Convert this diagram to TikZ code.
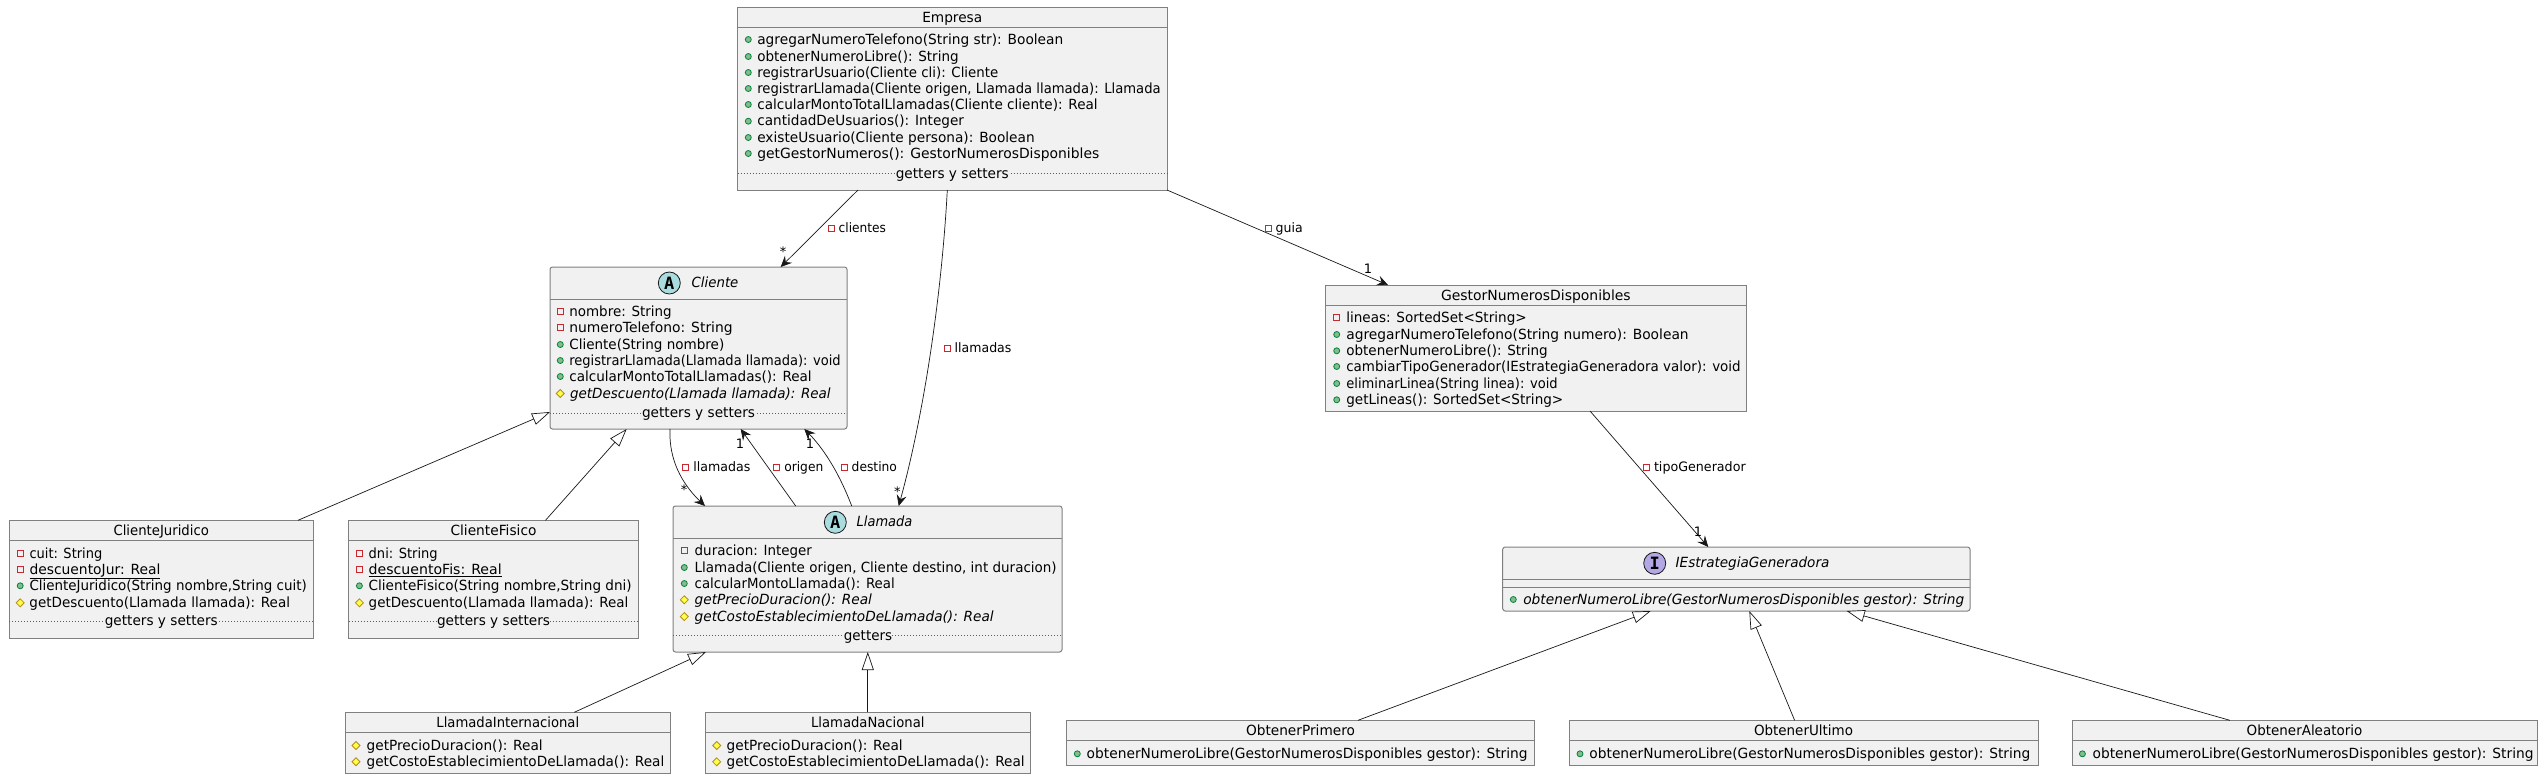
\documentclass[tikz,border=0pt]{standalone}
\usepackage{graphicx}
\usepackage{fontspec}
\setmainfont{DejaVu Sans}
\newfontfamily\spotfont{DejaVu Sans Mono}
\usetikzlibrary{arrows.meta}
\definecolor{boxfill}{HTML}{F1F1F1}
\definecolor{boxline}{HTML}{808080}
\definecolor{conline}{HTML}{181818}
\definecolor{privc}{HTML}{C82930}
\definecolor{pubf}{HTML}{84BE84}
\definecolor{pubd}{HTML}{038048}
\definecolor{protf}{HTML}{FFFF44}
\definecolor{protd}{HTML}{B38D22}
\definecolor{abstf}{HTML}{A9DCDF}
\definecolor{intff}{HTML}{B4A7E5}
\tikzset{
  cls/.style={draw=boxline,fill=boxfill,line width=1pt,inner sep=0pt,outer sep=0pt},
  absbox/.style={rounded corners=2.5pt},
  sepline/.style={draw=boxline,line width=1pt},
  dotline/.style={draw=conline!70,line width=.6pt,dash pattern=on 1pt off 2pt},
  mtext/.style={anchor=base west,inner sep=0pt,outer sep=0pt,font=\fontsize{14}{16}\selectfont,text=black},
  ttext/.style={anchor=base,inner sep=0pt,outer sep=0pt,font=\fontsize{14}{16}\selectfont,text=black},
  dottext/.style={anchor=base,inner sep=0pt,outer sep=0pt,fill=boxfill,font=\fontsize{14}{16}\selectfont,text=black},
  ltext/.style={anchor=base west,inner sep=0pt,outer sep=0pt,font=\fontsize{13}{15}\selectfont,text=black},
  mult/.style={anchor=center,inner sep=0pt,outer sep=0pt,font=\fontsize{13}{15}\selectfont,text=black},
  con/.style={draw=conline,line width=.7pt},
  assoc/.style={con,-{Stealth[length=11pt,width=10pt,inset=4pt,fill=conline]}},
  inherit/.style={con,-{Triangle[length=18pt,width=12pt,fill=white,line width=.7pt]}},
  privi/.style={draw=privc,line width=.9pt},
  pubi/.style={draw=pubd,fill=pubf,line width=.8pt},
  proti/.style={draw=protd,fill=protf,line width=.8pt},
  spot/.style={circle,draw=conline,line width=.8pt,minimum size=22pt,inner sep=0pt,outer sep=0pt,font=\spotfont\bfseries\fontsize{17}{17}\selectfont,text=black}
}
\newcounter{txtno}
\newcommand{\W}[2]{\resizebox{#1pt}{\height}{#2}}
\newcommand{\umlcls}[6][]{%
  \pgfmathsetmacro\myX{(#3+#5)/2}\pgfmathsetmacro\myY{(#4+#6)/2}%
  \pgfmathsetmacro\myW{#5-#3}\pgfmathsetmacro\myH{#6-#4}%
  \node[cls,#1,minimum width=\myW pt,minimum height=\myH pt] (#2) at (\myX,\myY) {};}
\newcommand{\txt}[4]{\stepcounter{txtno}\node[#1] (t\arabic{txtno}) at (#2,#3) {#4};}
\newcommand{\hsep}[2]{\draw[sepline] (#1.west |- 0,#2) -- (#1.east |- 0,#2);}
\newcommand{\dsep}[4]{\draw[dotline] (#1.west |- 0,#2) -- (#1.east |- 0,#2);
  \txt{dottext}{#3}{#4}{\W{113}{getters y setters}}}
% icon x, text x, baseline, text
\newcommand{\pubm}[4]{\filldraw[pubi] (#1,#3-4.5) circle (3pt); \txt{mtext}{#2}{#3}{#4}}
\newcommand{\prim}[4]{\draw[privi] (#1-3,#3-7.5) rectangle (#1+3,#3-1.5); \txt{mtext}{#2}{#3}{#4}}
\newcommand{\prom}[4]{\filldraw[proti] (#1-4,#3-4.5) -- (#1,#3-8.5) -- (#1+4,#3-4.5) -- (#1,#3-0.5) -- cycle; \txt{mtext}{#2}{#3}{#4}}
\newcommand{\conlab}[3]{\draw[privi] (#1-10.5,#2-7.5) rectangle (#1-4.5,#2-1.5); \txt{ltext}{#1}{#2}{#3}}
\begin{document}
\begin{tikzpicture}[x=1pt,y=-1pt]
\useasboundingbox (0,0) rectangle (2546,779);
\fill[white] (0,0) rectangle (2546,779);

\umlcls{empresa}{737.5}{7.5}{1167}{190}
\umlcls[absbox]{cliente}{550}{267}{847}{429}
\umlcls{juridico}{9}{520.3}{313.5}{638.3}
\umlcls{fisico}{348.5}{520.3}{638.5}{638.3}
\umlcls[absbox]{llamada}{673}{506}{1062}{652}
\umlcls{internac}{345.3}{712.3}{670.3}{773.3}
\umlcls{nacional}{705.3}{712.3}{1030.3}{773.3}
\umlcls{gestor}{1325.7}{285}{1746}{411}
\umlcls[absbox]{estrategia}{1502.7}{547}{1970}{611}
\umlcls{primero}{1066.3}{720.3}{1534.7}{765.3}
\umlcls{ultimo}{1569}{720.3}{2038}{765.3}
\umlcls{aleatorio}{2072}{720.3}{2537}{765.3}

\draw[assoc] (858,0 |- empresa.south) -- (780.7,0 |- cliente.north);
\draw[assoc] (947.3,0 |- empresa.south) .. controls (942,290) and (925,410) .. (898.7,0 |- llamada.north);
\draw[assoc] (empresa.south east) -- (1388,0 |- gestor.north);
\draw[assoc] (670,0 |- cliente.south) .. controls (669,452) and (676,478) .. (705,0 |- llamada.north);
\draw[assoc] (795.7,0 |- llamada.north) -- (740.7,0 |- cliente.south);
\draw[assoc] (851.7,0 |- llamada.north) .. controls (838,470) and (822,447) .. (804.3,0 |- cliente.south);
\draw[assoc] (1590,0 |- gestor.south) -- (1708.3,0 |- estrategia.north);
\draw[inherit] (298,0 |- juridico.north) -- (cliente.west |- 0,412);
\draw[inherit] (545.5,0 |- fisico.north) -- (626.7,0 |- cliente.south);
\draw[inherit] (574.3,0 |- internac.north) -- (706,0 |- llamada.south);
\draw[inherit] (nacional.north) -- (nacional.north |- llamada.south);
\draw[inherit] (1358,0 |- primero.north) -- (1650.7,0 |- estrategia.south);
\draw[inherit] (1794.6,0 |- ultimo.north) -- (1749.3,0 |- estrategia.south);
\draw[inherit] (2229.8,0 |- aleatorio.north) -- (1846.7,0 |- estrategia.south);

\conlab{838.7}{232.7}{\W{47.3}{clientes}}
\txt{mult}{783}{252}{*}
\conlab{954.7}{352.7}{\W{56.7}{llamadas}}
\txt{mult}{897.3}{492}{*}
\conlab{1275.7}{232.7}{\W{27}{guia}}
\txt{mult}{1368}{269}{1}
\conlab{693.3}{471.7}{\W{57}{llamadas}}
\txt{mult}{684}{490}{*}
\conlab{784.3}{471.7}{\W{39}{origen}}
\txt{mult}{740}{444}{1}
\conlab{851.7}{471.7}{\W{45.3}{destino}}
\txt{mult}{810}{444}{1}
\conlab{1654}{471.7}{\W{91.7}{tipoGenerador}}
\txt{mult}{1698}{531.7}{1}

\hsep{empresa}{27.5}
\txt{ttext}{952.25}{22}{\W{60}{Empresa}}
\pubm{748.3}{757.3}{44}{\W{306}{agregarNumeroTelefono(String str): Boolean}}
\pubm{748.3}{757.3}{61}{\W{201.4}{obtenerNumeroLibre(): String}}
\pubm{748.3}{757.3}{77}{\W{241}{registrarUsuario(Cliente cli): Cliente}}
\pubm{748.3}{757.3}{93}{\W{403.4}{registrarLlamada(Cliente origen, Llamada llamada): Llamada}}
\pubm{748.3}{757.3}{109}{\W{340.4}{calcularMontoTotalLlamadas(Cliente cliente): Real}}
\pubm{748.3}{757.3}{125.7}{\W{206.7}{cantidadDeUsuarios(): Integer}}
\pubm{748.3}{757.3}{142}{\W{277.4}{existeUsuario(Cliente persona): Boolean}}
\pubm{748.3}{757.3}{158}{\W{342}{getGestorNumeros(): GestorNumerosDisponibles}}
\dsep{empresa}{173.3}{952.25}{178}

\hsep{cliente}{299}
\node[spot,fill=abstf] (spotcliente) at (669.3,283) {A};
\txt{mtext}{691.7}{287.7}{\W{46.7}{\itshape Cliente}}
\prim{560.3}{569.3}{316}{\W{102.4}{nombre: String}}
\prim{560.3}{569.3}{332.3}{\W{163.4}{numeroTelefono: String}}
\pubm{560.3}{569.3}{349}{\W{155}{Cliente(String nombre)}}
\pubm{560.3}{569.3}{365}{\W{271.4}{registrarLlamada(Llamada llamada): void}}
\pubm{560.3}{569.3}{381}{\W{242.4}{calcularMontoTotalLlamadas(): Real}}
\prom{560.3}{570}{398}{\W{260.7}{\itshape getDescuento(Llamada llamada): Real}}
\dsep{cliente}{413.3}{698.5}{417.5}

\hsep{juridico}{540.3}
\txt{ttext}{161.25}{535}{\W{95.5}{ClienteJuridico}}
\prim{20.2}{29.5}{558.3}{\W{72.8}{cuit: String}}
\prim{20.2}{29.5}{574.3}{\W{130.9}{\underline{descuentoJur: Real}}}
\pubm{20.2}{29.5}{590.3}{\W{277.3}{ClienteJuridico(String nombre,String cuit)}}
\prom{20.2}{29.5}{607.3}{\W{260.5}{getDescuento(Llamada llamada): Real}}
\dsep{juridico}{621.3}{161.25}{625.7}

\hsep{fisico}{540.3}
\txt{ttext}{493.5}{535}{\W{85.9}{ClienteFisico}}
\prim{359.4}{368.7}{558.3}{\W{69}{dni: String}}
\prim{359.4}{368.7}{574.3}{\W{133}{\underline{descuentoFis: Real}}}
\pubm{359.4}{368.7}{590.3}{\W{263}{ClienteFisico(String nombre,String dni)}}
\prom{359.4}{368.7}{607.3}{\W{259.7}{getDescuento(Llamada llamada): Real}}
\dsep{fisico}{621.3}{493.5}{625.7}

\hsep{llamada}{538.3}
\node[spot,fill=abstf] (spotllamada) at (835.3,522.3) {A};
\txt{mtext}{856.7}{526.7}{\W{55.7}{\itshape Llamada}}
\prim{684.3}{694.7}{555}{\W{117.3}{duracion: Integer}}
\pubm{684.3}{694.7}{572}{\W{362}{Llamada(Cliente origen, Cliente destino, int duracion)}}
\pubm{684.3}{694.7}{588}{\W{200}{calcularMontoLlamada(): Real}}
\prom{684.3}{694.7}{604.3}{\W{177.3}{\itshape getPrecioDuracion(): Real}}
\prom{684.3}{694.7}{621}{\W{299}{\itshape getCostoEstablecimientoDeLlamada(): Real}}
\draw[dotline] (llamada.west |- 0,635.3) -- (llamada.east |- 0,635.3);
\txt{dottext}{868}{640}{\W{48.3}{getters}}

\hsep{internac}{732.3}
\txt{ttext}{507.8}{727}{\W{142.7}{LlamadaInternacional}}
\prom{356}{366.7}{750}{\W{176}{getPrecioDuracion(): Real}}
\prom{356}{366.7}{766.3}{\W{297.6}{getCostoEstablecimientoDeLlamada(): Real}}
\hsep{nacional}{732.3}
\txt{ttext}{867.8}{727}{\W{113.3}{LlamadaNacional}}
\prom{716.7}{726.7}{750}{\W{176}{getPrecioDuracion(): Real}}
\prom{716.7}{726.7}{766.3}{\W{298}{getCostoEstablecimientoDeLlamada(): Real}}

\hsep{gestor}{305.3}
\txt{ttext}{1535.85}{300}{\W{189.7}{GestorNumerosDisponibles}}
\prim{1336.7}{1346.3}{322.3}{\W{180.4}{lineas: SortedSet<String>}}
\pubm{1336.7}{1346.3}{339}{\W{342.4}{agregarNumeroTelefono(String numero): Boolean}}
\pubm{1336.7}{1346.3}{355.3}{\W{201.4}{obtenerNumeroLibre(): String}}
\pubm{1336.7}{1346.3}{371}{\W{394.4}{cambiarTipoGenerador(IEstrategiaGeneradora valor): void}}
\pubm{1336.7}{1346.3}{388}{\W{211.4}{eliminarLinea(String linea): void}}
\pubm{1336.7}{1346.3}{404.3}{\W{217}{getLineas(): SortedSet<String>}}

\hsep{estrategia}{579.3}
\hsep{estrategia}{587.3}
\node[spot,fill=intff] (spotestrategia) at (1654.7,563.3) {I};
\txt{mtext}{1675.7}{567.7}{\W{153.7}{\itshape IEstrategiaGeneradora}}
\pubm{1513.3}{1523.3}{604}{\W{441}{\itshape obtenerNumeroLibre(GestorNumerosDisponibles gestor): String}}

\hsep{primero}{740.3}
\txt{ttext}{1300.5}{735}{\W{109}{ObtenerPrimero}}
\pubm{1077.3}{1086.7}{758.3}{\W{441}{obtenerNumeroLibre(GestorNumerosDisponibles gestor): String}}
\hsep{ultimo}{740.3}
\txt{ttext}{1803.5}{735}{\W{99}{ObtenerUltimo}}
\pubm{1580}{1589.4}{758.3}{\W{441}{obtenerNumeroLibre(GestorNumerosDisponibles gestor): String}}
\hsep{aleatorio}{740.3}
\txt{ttext}{2304.5}{735}{\W{115.6}{ObtenerAleatorio}}
\pubm{2082.4}{2092.6}{758.3}{\W{441}{obtenerNumeroLibre(GestorNumerosDisponibles gestor): String}}
\end{tikzpicture}
\end{document}
